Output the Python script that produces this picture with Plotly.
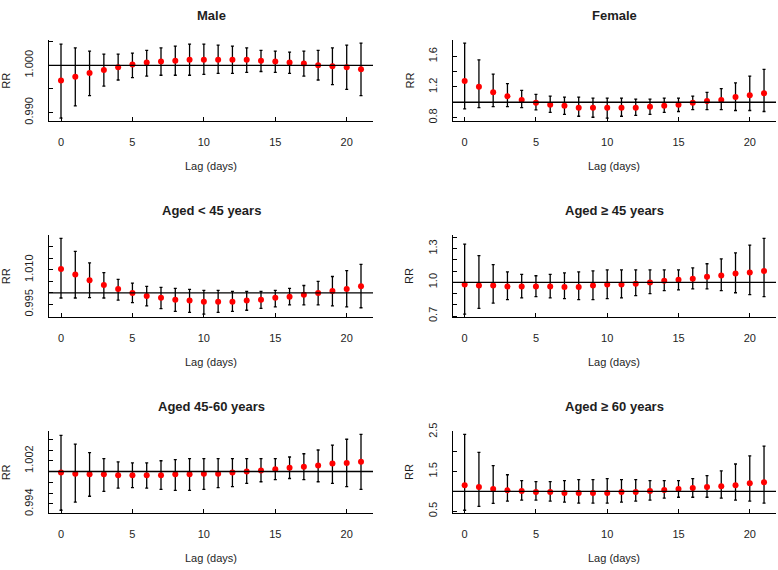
import plotly.graph_objects as go

lags = list(range(22))

titles = ["Male", "Female", "Aged < 45 years", "Aged ≥ 45 years", "Aged 45-60 years", "Aged ≥ 60 years"]

male_rr = [0.9968, 0.9976, 0.9984, 0.9990, 0.9996, 1.0002, 1.0006, 1.0008, 1.0010, 1.0012, 1.0012, 1.0012, 1.0012, 1.0012, 1.0010, 1.0008, 1.0006, 1.0004, 1.0000, 0.9998, 0.9996, 0.9992]
male_up = [1.0045, 1.0037, 1.0030, 1.0024, 1.0024, 1.0026, 1.0032, 1.0037, 1.0041, 1.0045, 1.0045, 1.0043, 1.0041, 1.0037, 1.0032, 1.0030, 1.0028, 1.0030, 1.0032, 1.0037, 1.0043, 1.0047]
male_lo = [0.9888, 0.9914, 0.9936, 0.9956, 0.9969, 0.9974, 0.9977, 0.9979, 0.9979, 0.9979, 0.9981, 0.9983, 0.9983, 0.9985, 0.9987, 0.9985, 0.9983, 0.9977, 0.9969, 0.9959, 0.9949, 0.9936]

female_rr = [1.279, 1.204, 1.129, 1.079, 1.029, 0.992, 0.967, 0.954, 0.929, 0.929, 0.929, 0.929, 0.929, 0.942, 0.954, 0.967, 0.992, 1.017, 1.029, 1.067, 1.092, 1.117]
female_up = [1.771, 1.554, 1.367, 1.242, 1.154, 1.104, 1.079, 1.067, 1.067, 1.054, 1.054, 1.054, 1.042, 1.042, 1.054, 1.054, 1.079, 1.129, 1.179, 1.254, 1.342, 1.429]
female_lo = [0.913, 0.929, 0.942, 0.942, 0.929, 0.900, 0.867, 0.842, 0.817, 0.804, 0.792, 0.817, 0.829, 0.842, 0.867, 0.879, 0.904, 0.904, 0.904, 0.892, 0.892, 0.879]

u45_rr = [1.0103, 1.0080, 1.0055, 1.0034, 1.0017, 1.0000, 0.9987, 0.9979, 0.9971, 0.9967, 0.9962, 0.9962, 0.9962, 0.9967, 0.9971, 0.9979, 0.9983, 0.9992, 1.0000, 1.0008, 1.0017, 1.0029]
u45_up = [1.0236, 1.0180, 1.0130, 1.0088, 1.0059, 1.0042, 1.0028, 1.0024, 1.0020, 1.0015, 1.0011, 1.0011, 1.0007, 1.0007, 1.0007, 1.0011, 1.0020, 1.0032, 1.0050, 1.0071, 1.0096, 1.0123]
u45_lo = [0.9978, 0.9978, 0.9980, 0.9978, 0.9969, 0.9958, 0.9944, 0.9932, 0.9920, 0.9916, 0.9908, 0.9916, 0.9920, 0.9925, 0.9933, 0.9940, 0.9948, 0.9948, 0.9948, 0.9944, 0.9940, 0.9936]

o45_rr = [0.980, 0.971, 0.971, 0.962, 0.962, 0.962, 0.962, 0.959, 0.959, 0.971, 0.980, 0.980, 0.988, 0.997, 1.014, 1.023, 1.032, 1.049, 1.061, 1.078, 1.087, 1.101]
o45_up = [1.339, 1.238, 1.157, 1.093, 1.070, 1.058, 1.070, 1.084, 1.093, 1.101, 1.110, 1.110, 1.110, 1.110, 1.110, 1.110, 1.128, 1.165, 1.209, 1.261, 1.330, 1.391]
o45_lo = [0.716, 0.768, 0.814, 0.846, 0.861, 0.872, 0.861, 0.855, 0.846, 0.846, 0.855, 0.861, 0.881, 0.899, 0.925, 0.933, 0.942, 0.942, 0.925, 0.907, 0.890, 0.872]

m4560_rr = [0.9998, 0.9996, 0.9995, 0.9995, 0.9993, 0.9993, 0.9993, 0.9993, 0.9995, 0.9995, 0.9996, 0.9996, 0.9998, 1.0000, 1.0002, 1.0004, 1.0007, 1.0009, 1.0011, 1.0015, 1.0016, 1.0018]
m4560_up = [1.0067, 1.0051, 1.0035, 1.0024, 1.0018, 1.0016, 1.0016, 1.0020, 1.0022, 1.0024, 1.0024, 1.0024, 1.0024, 1.0024, 1.0024, 1.0024, 1.0027, 1.0033, 1.0040, 1.0049, 1.0060, 1.0069]
m4560_lo = [0.9928, 0.9943, 0.9954, 0.9963, 0.9969, 0.9970, 0.9969, 0.9967, 0.9965, 0.9965, 0.9967, 0.9970, 0.9972, 0.9978, 0.9981, 0.9985, 0.9987, 0.9985, 0.9981, 0.9978, 0.9972, 0.9967]

o60_rr = [1.156, 1.107, 1.057, 1.025, 1.008, 0.984, 0.984, 0.959, 0.959, 0.959, 0.959, 0.984, 0.984, 1.008, 1.033, 1.057, 1.082, 1.107, 1.131, 1.156, 1.205, 1.230]
o60_up = [2.435, 1.984, 1.648, 1.418, 1.271, 1.246, 1.246, 1.271, 1.295, 1.295, 1.320, 1.295, 1.295, 1.271, 1.271, 1.271, 1.320, 1.394, 1.517, 1.689, 1.894, 2.140]
o60_lo = [0.524, 0.623, 0.697, 0.754, 0.779, 0.779, 0.754, 0.729, 0.705, 0.705, 0.705, 0.729, 0.754, 0.779, 0.828, 0.852, 0.852, 0.852, 0.828, 0.779, 0.754, 0.705]

x_tickvals = [0, 5, 10, 15, 20]
y_tickvals = [
    [0.990, 0.995, 1.000, 1.005],
    [0.8, 1.0, 1.2, 1.4, 1.6, 1.8],
    [0.995, 1.000, 1.005, 1.010, 1.015, 1.020, 1.025],
    [0.7, 0.8, 0.9, 1.0, 1.1, 1.2, 1.3, 1.4],
    [0.994, 0.996, 0.998, 1.000, 1.002, 1.004, 1.006],
    [0.5, 1.0, 1.5, 2.0, 2.5],
]
y_ticktext = [
    ["0.990", "", "1.000", ""],
    ["0.8", "", "1.2", "", "1.6", ""],
    ["0.995", "", "", "1.010", "", "", "1.025"],
    ["0.7", "", "", "1.0", "", "", "1.3", ""],
    ["0.994", "", "", "", "1.002", "", ""],
    ["0.5", "", "1.5", "", "2.5"],
]

series = [
    (male_rr, male_lo, male_up),
    (female_rr, female_lo, female_up),
    (u45_rr, u45_lo, u45_up),
    (o45_rr, o45_lo, o45_up),
    (m4560_rr, m4560_lo, m4560_up),
    (o60_rr, o60_lo, o60_up),
]

W, H = 778, 570
col_px = [(49, 373), (452.7, 776)]
row_px = [(32, 115), (232, 316), (433, 517)]

FONT = "Liberation Sans, Arial, sans-serif"
TXT = "#1e1e1e"

fig = go.Figure()
layout = dict(
    width=W, height=H, autosize=False, margin=dict(l=0, r=0, t=0, b=0),
    paper_bgcolor="white", plot_bgcolor="white", showlegend=False,
    font=dict(family=FONT, size=11, color=TXT),
)
annotations = []
shapes = []

for i, (rr, lo, up) in enumerate(series):
    r, c = divmod(i, 2)
    n = i + 1
    xa = "x" if n == 1 else f"x{n}"
    ya = "y" if n == 1 else f"y{n}"
    fig.add_trace(go.Scatter(
        x=lags, y=rr, mode="markers",
        marker=dict(color="#ff0000", size=6, line=dict(width=0)),
        error_y=dict(type="data", symmetric=False,
                     array=[u - v for u, v in zip(up, rr)],
                     arrayminus=[v - l for v, l in zip(rr, lo)],
                     color="black", thickness=1.3, width=1.5),
        xaxis=xa, yaxis=ya,
    ))
    x0, x1 = col_px[c]
    y0, y1 = row_px[r]
    lo_all, hi_all = min(lo), max(up)
    pad = 0.04 * (hi_all - lo_all)
    ax_common = dict(showline=True, linecolor="black", linewidth=1.3,
                     ticks="inside", ticklen=4, tickcolor="black", tickwidth=1,
                     showgrid=False, zeroline=False,
                     tickfont=dict(family=FONT, size=11, color=TXT))
    layout["xaxis" if n == 1 else f"xaxis{n}"] = dict(
        domain=[x0 / W, x1 / W], anchor=ya, range=[-0.84, 21.84],
        tickvals=x_tickvals, ticklabelstandoff=10, **ax_common)
    layout["yaxis" if n == 1 else f"yaxis{n}"] = dict(
        domain=[1 - y1 / H, 1 - y0 / H], anchor=xa,
        range=[lo_all - pad, hi_all + pad],
        tickvals=y_tickvals[i], ticktext=y_ticktext[i], tickangle=-90,
        ticklabelstandoff=10, **ax_common)
    shapes.append(dict(type="line", xref=f"{xa} domain", yref=ya,
                       x0=0, x1=1, y0=1, y1=1,
                       line=dict(color="black", width=1.3)))
    cx = (x0 + x1) / 2
    annotations.append(dict(text=f"<b>{titles[i]}</b>", x=cx / W, y=1 - (y0 - 25) / H,
                            xref="paper", yref="paper", showarrow=False,
                            xanchor="center", yanchor="middle",
                            font=dict(family=FONT, size=13, color=TXT)))
    annotations.append(dict(text="Lag (days)", x=cx / W, y=1 - (y1 + 46) / H,
                            xref="paper", yref="paper", showarrow=False,
                            xanchor="center", yanchor="middle",
                            font=dict(family=FONT, size=11, color=TXT)))
    annotations.append(dict(text="RR", x=(x0 - 43) / W, y=1 - ((y0 + y1) / 2) / H,
                            xref="paper", yref="paper", showarrow=False, textangle=-90,
                            xanchor="center", yanchor="middle",
                            font=dict(family=FONT, size=11, color=TXT)))

layout["annotations"] = annotations
layout["shapes"] = shapes
fig.update_layout(**layout)
fig.write_html(
    "out.html",
    config={"displayModeBar": False, "responsive": False},
    post_script=(
        "document.documentElement.style.margin='0';"
        "document.body.style.margin='0';document.body.style.padding='0';"
        "document.body.style.overflow='hidden';"
        "var d=document.getElementById('{plot_id}');"
        "d.style.position='absolute';d.style.top='0px';d.style.left='0px';"
    ),
)
